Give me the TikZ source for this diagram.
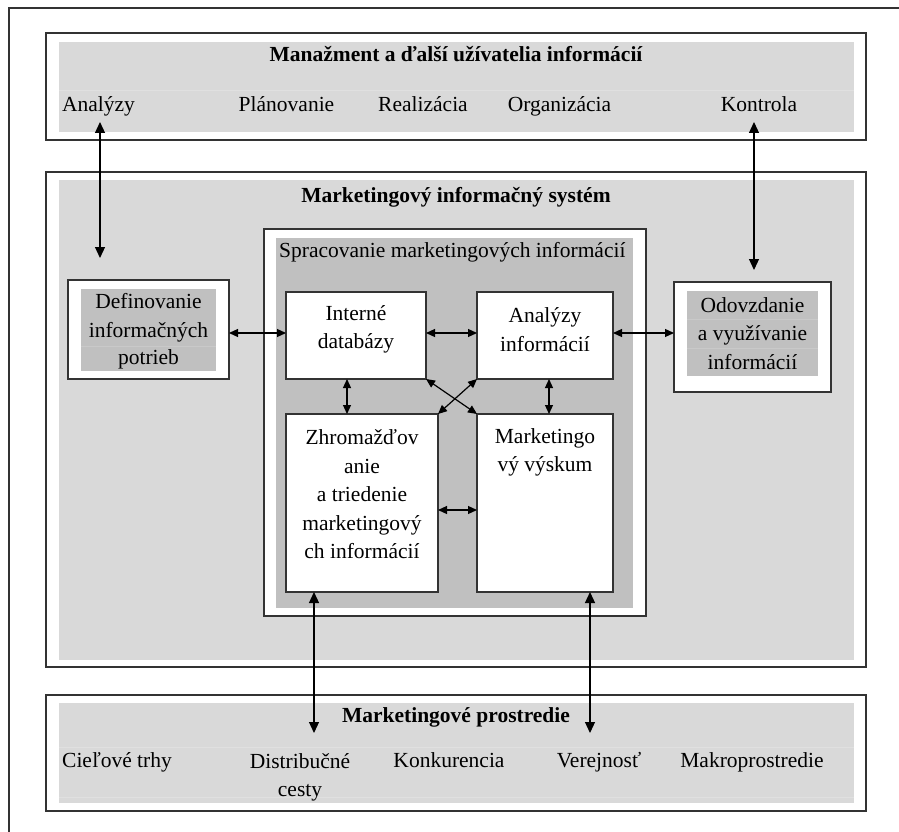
\documentclass[tikz,border=0pt]{standalone}
\usepackage{fontspec}
\setmainfont{Liberation Serif}
\usetikzlibrary{arrows.meta}
\definecolor{lg}{HTML}{D9D9D9}
\definecolor{dg}{HTML}{C0C0C0}
\definecolor{ln}{HTML}{333333}
\definecolor{sepc}{HTML}{E0E0E0}
\definecolor{sepd}{HTML}{C9C9C9}
\begin{document}
\begin{tikzpicture}[x=1pt,y=-1pt,
 frm/.style={draw=ln, line width=1.3pt, fill=white, inner sep=0pt, outer sep=0pt},
 lgr/.style={fill=lg, inner sep=0pt, outer sep=0pt},
 dgr/.style={fill=dg, inner sep=0pt, outer sep=0pt},
 txt/.style={font=\fontsize{21.5}{28.5}\selectfont, inner sep=0pt, align=center, text=black},
 ttl/.style={font=\fontsize{21.5}{28.5}\selectfont\bfseries, inner sep=0pt, align=center, text=black},
 arr/.style={{Triangle[length=11pt,width=10pt]}-{Triangle[length=11pt,width=10pt]}, draw=black, line width=1.2pt},
 sarr/.style={{Triangle[length=9pt,width=8pt]}-{Triangle[length=9pt,width=8pt]}, draw=black, line width=1.2pt}]
\useasboundingbox (0,0) rectangle (899,832);
% outer frame
\draw[draw=ln, line width=1.3pt] (9,832) -- (9,8) -- (899,8);

% top box
\node[frm, minimum width=820pt, minimum height=107pt] (mgmt) at (456,86.5) {};
\node[lgr, minimum width=795pt, minimum height=90pt] (mgmtin) at (456.5,87) {};
\draw[sepc, line width=0.8pt] (59,90) -- (854,90);
\node[ttl, anchor=base] (mgmtt) at (456,62) {Manažment a ďalší užívatelia informácií};
\node[txt, anchor=base] (t1) at (98.5,111.5) {Analýzy};
\node[txt, anchor=base] (t2) at (286.5,111.5) {Plánovanie};
\node[txt, anchor=base] (t3) at (423,111.5) {Realizácia};
\node[txt, anchor=base] (t4) at (559.5,111.5) {Organizácia};
\node[txt, anchor=base] (t5) at (759,111.5) {Kontrola};

% MIS box
\node[frm, minimum width=820pt, minimum height=495pt] (mis) at (456,419.5) {};
\node[lgr, minimum width=795pt, minimum height=480pt] (misin) at (456.5,420) {};
\node[ttl, anchor=base] (mist) at (456,202) {Marketingový informačný systém};

% Definovanie
\node[frm, minimum width=161pt, minimum height=99pt] (def) at (148.5,329.5) {};
\node[dgr, minimum width=135pt, minimum height=82pt] (defin) at (148.5,330) {};
\draw[sepd, line width=0.8pt] (81,346) -- (216,346);
\node[txt] (deft) at (148.5,331) {Definovanie\\informačných\\[-1.5pt]potrieb};

% Spracovanie
\node[frm, minimum width=382pt, minimum height=387pt] (proc) at (455,422.5) {};
\node[dgr, minimum width=357pt, minimum height=370pt] (procin) at (454.5,423) {};
\node[txt, anchor=base west] (proct) at (279,257) {Spracovanie marketingových informácií};

\node[frm, minimum width=140pt, minimum height=87pt] (intdb) at (356,335.5) {};
\node[txt] (intdbt) at (356,329.5) {Interné\\databázy};
\node[frm, minimum width=136pt, minimum height=87pt] (anab) at (545,335.5) {};
\node[txt] (anabt) at (545,329.5) {Analýzy\\informácií};
\node[frm, minimum width=152pt, minimum height=178pt] (zhr) at (362,503) {};
\node[txt] (zhrt) at (362,494.5) {Zhromažďov\\anie\\a triedenie\\marketingový\\ch informácií};
\node[frm, minimum width=136pt, minimum height=178pt] (vys) at (545,503) {};
\node[txt] (vyst) at (545,452.5) {Marketingo\\vý výskum};

% Odovzdanie
\node[frm, minimum width=157pt, minimum height=110pt] (odo) at (752.5,337) {};
\node[dgr, minimum width=131pt, minimum height=85pt] (odoin) at (752.5,333.5) {};
\draw[sepd, line width=0.8pt] (687,319) -- (818,319);
\draw[sepd, line width=0.8pt] (687,348) -- (818,348);
\node[txt] (odot) at (752.5,333.5) {Odovzdanie\\a využívanie\\informácií};

% bottom box
\node[frm, minimum width=820pt, minimum height=116pt] (env) at (456,753) {};
\node[lgr, minimum width=795pt, minimum height=100pt] (envin) at (456.5,753) {};
\draw[sepc, line width=0.8pt] (59,747) -- (854,747);
\draw[sepc, line width=0.8pt] (59,797) -- (854,797);
\node[ttl, anchor=base] (envt) at (456,722.5) {Marketingové prostredie};
\node[txt, anchor=base] (b1) at (117,767) {Cieľové trhy};
\node[txt] (b2) at (300,777.5) {Distribučné\\cesty};
\node[txt, anchor=base] (b3) at (449,767) {Konkurencia};
\node[txt, anchor=base] (b4) at (599,767) {Verejnosť};
\node[txt, anchor=base] (b5) at (752,767) {Makroprostredie};

% connector end points
\coordinate (c1a) at (100,122);
\coordinate (c1b) at (100,258);
\coordinate (c2a) at (754,122);
\coordinate (c2b) at (754,270);
\coordinate (c3b) at (314,733);
\coordinate (c4b) at (590,733);

% connectors
\draw[arr] (c1a) -- (c1b);
\draw[arr] (c2a) -- (c2b);
\draw[sarr] ([yshift=2.5pt]def.east |- intdb.west) -- ([yshift=2.5pt]intdb.west);
\draw[sarr] ([yshift=2.5pt]intdb.east) -- ([yshift=2.5pt]anab.west);
\draw[sarr] ([yshift=2.5pt]anab.east) -- ([yshift=2.5pt]odo.west |- anab.east);
\draw[sarr] ([xshift=-9pt]intdb.south) -- ([xshift=-15pt]zhr.north);
\draw[sarr] ([xshift=4pt]anab.south) -- ([xshift=4pt]vys.north);
\draw[sarr] (intdb.south east) -- (vys.north west);
\draw[sarr] (anab.south west) -- (zhr.north east);
\draw[sarr] ([yshift=-7pt]zhr.east) -- ([yshift=-7pt]vys.west);
\draw[arr] ([xshift=-48pt]zhr.south) -- (c3b);
\draw[arr] ([xshift=45pt]vys.south) -- (c4b);
\end{tikzpicture}
\end{document}
